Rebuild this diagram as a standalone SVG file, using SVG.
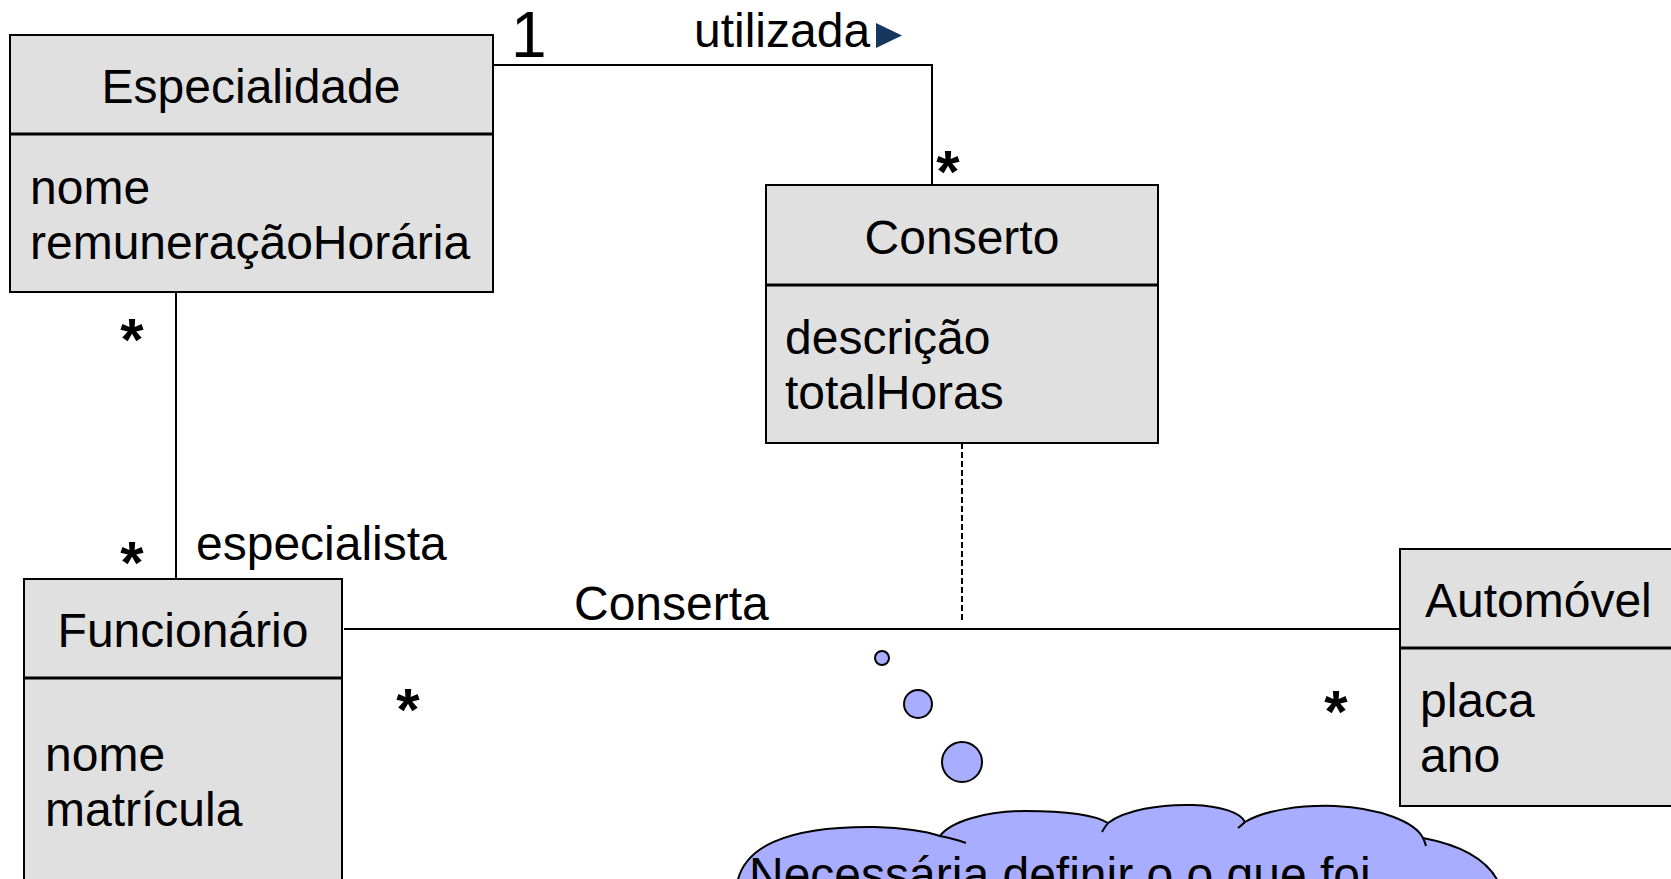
<svg xmlns="http://www.w3.org/2000/svg" width="1671" height="879" viewBox="0 0 1671 879">
<style>
text{font-family:"Liberation Sans",Arial,sans-serif;fill:#000;font-size:48px}
.box{fill:#E0E0E0;stroke:#000;stroke-width:2}
.div{stroke:#000;stroke-width:3}
.c{fill:none;stroke:#000;stroke-width:2}
.star{font-size:60px;font-weight:bold;text-anchor:middle}
.big{font-size:64px}
.title{text-anchor:middle}
.bub{fill:#A9ADFF;stroke:#000;stroke-width:2}
</style>
<rect width="1671" height="879" fill="#fff"/>
<g id="connectors">
<polyline class="c" points="493,65 932,65 932,185"/>
<line class="c" x1="176" y1="292" x2="176" y2="579"/>
<line class="c" x1="344" y1="629" x2="1400" y2="629"/>
<line class="c" x1="962" y1="443" x2="962" y2="623" stroke-dasharray="6 3"/>
<text class="big" x="511" y="57">1</text>
<text x="694" y="47">utilizada</text>
<polygon points="876,23 902,35.5 876,48" fill="#17375E"/>
<text class="star" x="948" y="192">*</text>
<text class="star" x="132" y="360">*</text>
<text class="star" x="132" y="583">*</text>
<text x="196" y="560">especialista</text>
<text x="574" y="620">Conserta</text>
<text class="star" x="408" y="730">*</text>
<text class="star" x="1336" y="732">*</text>
</g>
<g id="especialidade">
<rect class="box" x="10" y="35" width="483" height="257"/>
<line class="div" x1="10" y1="134" x2="493" y2="134"/>
<text class="title" x="251" y="103">Especialidade</text>
<text x="30" y="204">nome</text>
<text x="30" y="259">remuneraçãoHorária</text>
</g>
<g id="conserto">
<rect class="box" x="766" y="185" width="392" height="258"/>
<line class="div" x1="766" y1="285" x2="1158" y2="285"/>
<text class="title" x="962" y="254">Conserto</text>
<text x="785" y="354">descrição</text>
<text x="785" y="409">totalHoras</text>
</g>
<g id="funcionario">
<rect class="box" x="24" y="579" width="318" height="320"/>
<line class="div" x1="24" y1="678" x2="342" y2="678"/>
<text class="title" x="183" y="647">Funcionário</text>
<text x="45" y="771">nome</text>
<text x="45" y="826">matrícula</text>
</g>
<g id="automovel">
<rect class="box" x="1400" y="549" width="290" height="257"/>
<line class="div" x1="1400" y1="648" x2="1690" y2="648"/>
<text x="1425" y="617">Automóvel</text>
<text x="1420" y="717">placa</text>
<text x="1420" y="772">ano</text>
</g>
<g id="nota">
<circle class="bub" cx="882" cy="658" r="7"/>
<circle class="bub" cx="918" cy="704" r="14"/>
<circle class="bub" cx="962" cy="762" r="20"/>
<path class="bub" d="M736 895 C736 845 790 826 875 827 C905 828 925 831 940 836 C950 822 985 811 1025 811 C1065 811 1095 815 1108 823 C1125 810 1160 804 1193 805 C1220 806 1240 812 1245 822 C1265 810 1300 805 1335 806 C1380 808 1415 822 1423 838 C1460 845 1495 860 1503 895 Z"/>
<path class="c" d="M940 836 Q955 839 966 843 M1108 823 Q1104 828 1102 832 M1245 822 Q1242 825 1238 828 M1423 838 Q1425 842 1426 846"/>
<text x="749" y="891">Necessária definir o o que foi</text>
</g>
</svg>
